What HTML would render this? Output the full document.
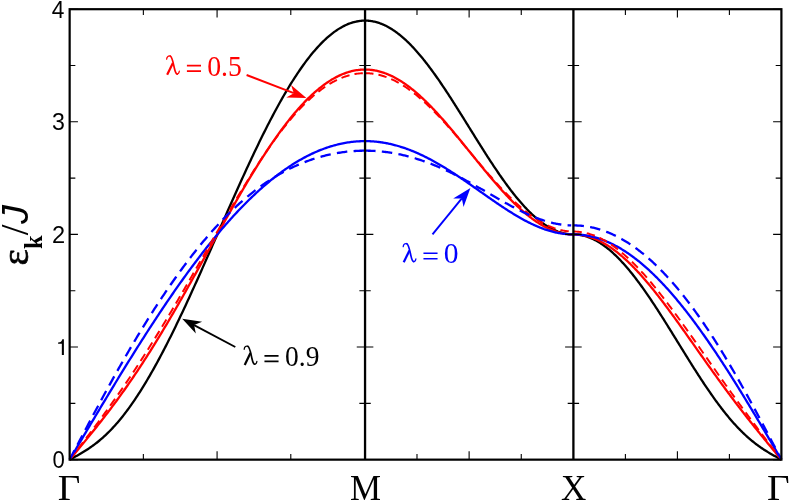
<!DOCTYPE html>
<html><head><meta charset="utf-8"><title>Dispersion</title>
<style>
html,body{margin:0;padding:0;background:#fff;}
body{width:789px;height:501px;overflow:hidden;}
svg{display:block;}
</style></head><body>
<svg width="789" height="501" viewBox="0 0 789 501">
<rect x="0" y="0" width="789" height="501" fill="#ffffff"/>
<g fill="none" stroke-width="2.3" stroke-linejoin="round">
<path stroke="#000000" d="M69.65,459.65 L70.88,458.99 L72.11,458.33 L73.34,457.67 L74.57,457.00 L75.80,456.32 L77.04,455.64 L78.27,454.95 L79.50,454.25 L80.73,453.54 L81.96,452.81 L83.19,452.07 L84.42,451.32 L85.65,450.55 L86.88,449.76 L88.11,448.96 L89.34,448.13 L90.57,447.29 L91.81,446.42 L93.04,445.53 L94.27,444.62 L95.50,443.69 L96.73,442.73 L97.96,441.75 L99.19,440.74 L100.42,439.71 L101.65,438.65 L102.88,437.56 L104.11,436.45 L105.34,435.31 L106.58,434.14 L107.81,432.95 L109.04,431.73 L110.27,430.48 L111.50,429.20 L112.73,427.89 L113.96,426.56 L115.19,425.19 L116.42,423.80 L117.65,422.38 L118.88,420.93 L120.11,419.46 L121.34,417.95 L122.58,416.42 L123.81,414.85 L125.04,413.26 L126.27,411.65 L127.50,410.00 L128.73,408.33 L129.96,406.63 L131.19,404.90 L132.42,403.14 L133.65,401.36 L134.88,399.55 L136.12,397.71 L137.35,395.85 L138.58,393.96 L139.81,392.05 L141.04,390.11 L142.27,388.14 L143.50,386.15 L144.73,384.13 L145.96,382.09 L147.19,380.03 L148.42,377.94 L149.65,375.83 L150.88,373.69 L152.12,371.54 L153.35,369.35 L154.58,367.15 L155.81,364.93 L157.04,362.68 L158.27,360.41 L159.50,358.12 L160.73,355.81 L161.96,353.48 L163.19,351.13 L164.42,348.76 L165.66,346.37 L166.89,343.97 L168.12,341.54 L169.35,339.10 L170.58,336.64 L171.81,334.16 L173.04,331.66 L174.27,329.15 L175.50,326.63 L176.73,324.08 L177.96,321.53 L179.19,318.96 L180.43,316.37 L181.66,313.77 L182.89,311.16 L184.12,308.53 L185.35,305.89 L186.58,303.24 L187.81,300.58 L189.04,297.91 L190.27,295.23 L191.50,292.53 L192.73,289.83 L193.96,287.12 L195.19,284.39 L196.43,281.66 L197.66,278.93 L198.89,276.18 L200.12,273.43 L201.35,270.67 L202.58,267.90 L203.81,265.13 L205.04,262.36 L206.27,259.58 L207.50,256.79 L208.73,254.01 L209.96,251.21 L211.20,248.42 L212.43,245.62 L213.66,242.83 L214.89,240.03 L216.12,237.23 L217.35,234.43 L218.58,231.62 L219.81,228.82 L221.04,226.03 L222.27,223.23 L223.50,220.43 L224.74,217.64 L225.97,214.85 L227.20,212.06 L228.43,209.28 L229.66,206.50 L230.89,203.73 L232.12,200.96 L233.35,198.20 L234.58,195.44 L235.81,192.69 L237.04,189.95 L238.27,187.22 L239.50,184.49 L240.74,181.77 L241.97,179.06 L243.20,176.36 L244.43,173.67 L245.66,171.00 L246.89,168.33 L248.12,165.67 L249.35,163.03 L250.58,160.39 L251.81,157.77 L253.04,155.17 L254.28,152.57 L255.51,150.00 L256.74,147.43 L257.97,144.88 L259.20,142.35 L260.43,139.83 L261.66,137.33 L262.89,134.84 L264.12,132.37 L265.35,129.92 L266.58,127.49 L267.81,125.08 L269.05,122.68 L270.28,120.30 L271.51,117.95 L272.74,115.61 L273.97,113.29 L275.20,111.00 L276.43,108.72 L277.66,106.47 L278.89,104.24 L280.12,102.03 L281.35,99.84 L282.58,97.68 L283.81,95.54 L285.05,93.42 L286.28,91.33 L287.51,89.27 L288.74,87.22 L289.97,85.21 L291.20,83.21 L292.43,81.25 L293.66,79.31 L294.89,77.40 L296.12,75.51 L297.35,73.65 L298.59,71.82 L299.82,70.02 L301.05,68.24 L302.28,66.50 L303.51,64.78 L304.74,63.09 L305.97,61.43 L307.20,59.80 L308.43,58.20 L309.66,56.63 L310.89,55.09 L312.12,53.58 L313.35,52.10 L314.59,50.66 L315.82,49.24 L317.05,47.86 L318.28,46.51 L319.51,45.19 L320.74,43.90 L321.97,42.65 L323.20,41.43 L324.43,40.24 L325.66,39.09 L326.89,37.96 L328.12,36.88 L329.36,35.82 L330.59,34.80 L331.82,33.82 L333.05,32.87 L334.28,31.95 L335.51,31.07 L336.74,30.22 L337.97,29.41 L339.20,28.63 L340.43,27.89 L341.66,27.18 L342.89,26.51 L344.13,25.88 L345.36,25.28 L346.59,24.71 L347.82,24.18 L349.05,23.69 L350.28,23.24 L351.51,22.82 L352.74,22.43 L353.97,22.09 L355.20,21.78 L356.43,21.50 L357.66,21.26 L358.90,21.06 L360.13,20.90 L361.36,20.77 L362.59,20.68 L363.82,20.62 L365.05,20.61 L365.92,20.61 L366.79,20.64 L367.65,20.69 L368.52,20.75 L369.39,20.83 L370.26,20.94 L371.13,21.05 L372.00,21.19 L372.86,21.35 L373.73,21.52 L374.60,21.71 L375.47,21.92 L376.34,22.15 L377.20,22.40 L378.07,22.66 L378.94,22.94 L379.81,23.24 L380.68,23.56 L381.54,23.89 L382.41,24.25 L383.28,24.62 L384.15,25.01 L385.02,25.41 L385.88,25.84 L386.75,26.28 L387.62,26.74 L388.49,27.21 L389.36,27.70 L390.23,28.21 L391.09,28.74 L391.96,29.28 L392.83,29.85 L393.70,30.42 L394.57,31.02 L395.43,31.63 L396.30,32.25 L397.17,32.90 L398.04,33.56 L398.91,34.23 L399.77,34.92 L400.64,35.63 L401.51,36.35 L402.38,37.09 L403.25,37.85 L404.12,38.62 L404.98,39.40 L405.85,40.20 L406.72,41.02 L407.59,41.85 L408.46,42.69 L409.32,43.55 L410.19,44.42 L411.06,45.31 L411.93,46.21 L412.80,47.13 L413.67,48.06 L414.53,49.00 L415.40,49.96 L416.27,50.93 L417.14,51.91 L418.01,52.90 L418.87,53.91 L419.74,54.93 L420.61,55.97 L421.48,57.01 L422.35,58.07 L423.21,59.14 L424.08,60.22 L424.95,61.32 L425.82,62.42 L426.69,63.54 L427.56,64.66 L428.42,65.80 L429.29,66.95 L430.16,68.11 L431.03,69.27 L431.90,70.45 L432.76,71.64 L433.63,72.84 L434.50,74.04 L435.37,75.26 L436.24,76.49 L437.10,77.72 L437.97,78.96 L438.84,80.21 L439.71,81.47 L440.58,82.74 L441.44,84.01 L442.31,85.30 L443.18,86.58 L444.05,87.88 L444.92,89.18 L445.79,90.49 L446.65,91.81 L447.52,93.13 L448.39,94.46 L449.26,95.79 L450.13,97.13 L450.99,98.47 L451.86,99.82 L452.73,101.18 L453.60,102.54 L454.47,103.90 L455.33,105.27 L456.20,106.64 L457.07,108.01 L457.94,109.39 L458.81,110.77 L459.68,112.15 L460.54,113.54 L461.41,114.93 L462.28,116.32 L463.15,117.71 L464.02,119.10 L464.88,120.50 L465.75,121.90 L466.62,123.29 L467.49,124.69 L468.36,126.09 L469.23,127.49 L470.09,128.89 L470.96,130.29 L471.83,131.69 L472.70,133.09 L473.57,134.48 L474.43,135.88 L475.30,137.27 L476.17,138.67 L477.04,140.06 L477.91,141.44 L478.77,142.83 L479.64,144.21 L480.51,145.60 L481.38,146.97 L482.25,148.35 L483.12,149.72 L483.98,151.08 L484.85,152.45 L485.72,153.81 L486.59,155.16 L487.46,156.51 L488.32,157.85 L489.19,159.19 L490.06,160.53 L490.93,161.86 L491.80,163.18 L492.66,164.49 L493.53,165.80 L494.40,167.11 L495.27,168.40 L496.14,169.69 L497.00,170.98 L497.87,172.25 L498.74,173.52 L499.61,174.78 L500.48,176.03 L501.35,177.27 L502.21,178.51 L503.08,179.73 L503.95,180.95 L504.82,182.16 L505.69,183.35 L506.55,184.54 L507.42,185.72 L508.29,186.89 L509.16,188.05 L510.03,189.20 L510.89,190.34 L511.76,191.46 L512.63,192.58 L513.50,193.68 L514.37,194.78 L515.24,195.86 L516.10,196.93 L516.97,197.99 L517.84,199.03 L518.71,200.07 L519.58,201.09 L520.44,202.10 L521.31,203.10 L522.18,204.08 L523.05,205.05 L523.92,206.01 L524.78,206.95 L525.65,207.88 L526.52,208.80 L527.39,209.70 L528.26,210.59 L529.13,211.46 L529.99,212.32 L530.86,213.17 L531.73,214.00 L532.60,214.81 L533.47,215.61 L534.33,216.40 L535.20,217.17 L536.07,217.92 L536.94,218.66 L537.81,219.39 L538.67,220.09 L539.54,220.79 L540.41,221.46 L541.28,222.12 L542.15,222.77 L543.02,223.39 L543.88,224.00 L544.75,224.60 L545.62,225.18 L546.49,225.74 L547.36,226.28 L548.22,226.81 L549.09,227.32 L549.96,227.81 L550.83,228.29 L551.70,228.75 L552.57,229.19 L553.43,229.61 L554.30,230.02 L555.17,230.41 L556.04,230.78 L556.91,231.13 L557.77,231.47 L558.64,231.79 L559.51,232.09 L560.38,232.37 L561.25,232.63 L562.11,232.88 L562.98,233.11 L563.85,233.32 L564.72,233.51 L565.59,233.68 L566.45,233.84 L567.32,233.98 L568.19,234.10 L569.06,234.20 L569.93,234.28 L570.80,234.34 L571.66,234.39 L572.53,234.42 L573.40,234.42 L574.27,234.43 L575.13,234.46 L576.00,234.51 L576.87,234.57 L577.73,234.65 L578.60,234.75 L579.47,234.87 L580.33,235.01 L581.20,235.17 L582.07,235.34 L582.93,235.53 L583.80,235.74 L584.67,235.97 L585.53,236.22 L586.40,236.48 L587.27,236.76 L588.13,237.06 L589.00,237.38 L589.87,237.72 L590.73,238.07 L591.60,238.44 L592.47,238.83 L593.33,239.24 L594.20,239.66 L595.07,240.10 L595.93,240.56 L596.80,241.04 L597.67,241.53 L598.53,242.04 L599.40,242.57 L600.27,243.11 L601.13,243.67 L602.00,244.25 L602.87,244.85 L603.73,245.46 L604.60,246.09 L605.47,246.73 L606.33,247.39 L607.20,248.07 L608.07,248.76 L608.93,249.47 L609.80,250.19 L610.67,250.93 L611.53,251.69 L612.40,252.46 L613.27,253.24 L614.13,254.04 L615.00,254.86 L615.87,255.69 L616.73,256.54 L617.60,257.40 L618.47,258.27 L619.33,259.16 L620.20,260.06 L621.07,260.98 L621.93,261.91 L622.80,262.85 L623.67,263.81 L624.53,264.78 L625.40,265.77 L626.27,266.76 L627.13,267.77 L628.00,268.80 L628.87,269.83 L629.73,270.88 L630.60,271.94 L631.47,273.01 L632.33,274.09 L633.20,275.19 L634.07,276.29 L634.93,277.41 L635.80,278.54 L636.67,279.68 L637.53,280.83 L638.40,281.99 L639.27,283.16 L640.13,284.34 L641.00,285.53 L641.87,286.73 L642.73,287.94 L643.60,289.16 L644.47,290.39 L645.33,291.62 L646.20,292.87 L647.07,294.12 L647.93,295.38 L648.80,296.65 L649.67,297.93 L650.53,299.21 L651.40,300.50 L652.27,301.80 L653.13,303.11 L654.00,304.42 L654.87,305.74 L655.73,307.07 L656.60,308.40 L657.47,309.73 L658.33,311.08 L659.20,312.42 L660.07,313.78 L660.93,315.14 L661.80,316.50 L662.67,317.86 L663.53,319.23 L664.40,320.61 L665.27,321.99 L666.13,323.37 L667.00,324.75 L667.87,326.14 L668.73,327.53 L669.60,328.93 L670.47,330.32 L671.33,331.72 L672.20,333.12 L673.07,334.52 L673.93,335.92 L674.80,337.33 L675.67,338.73 L676.53,340.14 L677.40,341.54 L678.27,342.95 L679.13,344.35 L680.00,345.76 L680.87,347.16 L681.73,348.57 L682.60,349.97 L683.47,351.37 L684.33,352.77 L685.20,354.17 L686.07,355.57 L686.93,356.96 L687.80,358.35 L688.67,359.74 L689.53,361.13 L690.40,362.51 L691.27,363.89 L692.13,365.27 L693.00,366.64 L693.87,368.01 L694.73,369.37 L695.60,370.73 L696.47,372.09 L697.33,373.44 L698.20,374.79 L699.07,376.13 L699.93,377.46 L700.80,378.79 L701.67,380.11 L702.53,381.43 L703.40,382.74 L704.27,384.04 L705.13,385.34 L706.00,386.63 L706.87,387.91 L707.73,389.19 L708.60,390.46 L709.47,391.72 L710.33,392.97 L711.20,394.22 L712.07,395.45 L712.93,396.68 L713.80,397.90 L714.67,399.11 L715.53,400.31 L716.40,401.50 L717.27,402.68 L718.13,403.85 L719.00,405.02 L719.87,406.17 L720.73,407.31 L721.60,408.44 L722.47,409.57 L723.33,410.68 L724.20,411.78 L725.07,412.87 L725.93,413.95 L726.80,415.02 L727.67,416.07 L728.53,417.12 L729.40,418.15 L730.27,419.18 L731.13,420.19 L732.00,421.19 L732.87,422.17 L733.73,423.15 L734.60,424.11 L735.47,425.06 L736.33,426.00 L737.20,426.93 L738.07,427.85 L738.93,428.75 L739.80,429.64 L740.67,430.52 L741.53,431.38 L742.40,432.23 L743.27,433.07 L744.13,433.90 L745.00,434.72 L745.87,435.52 L746.73,436.31 L747.60,437.09 L748.47,437.86 L749.33,438.61 L750.20,439.35 L751.07,440.08 L751.93,440.80 L752.80,441.50 L753.67,442.20 L754.53,442.88 L755.40,443.55 L756.27,444.21 L757.13,444.86 L758.00,445.49 L758.87,446.12 L759.73,446.74 L760.60,447.34 L761.47,447.94 L762.33,448.52 L763.20,449.10 L764.07,449.67 L764.93,450.22 L765.80,450.77 L766.67,451.31 L767.53,451.85 L768.40,452.37 L769.27,452.89 L770.13,453.40 L771.00,453.91 L771.87,454.41 L772.73,454.90 L773.60,455.39 L774.47,455.88 L775.33,456.36 L776.20,456.83 L777.07,457.31 L777.93,457.78 L778.80,458.25 L779.67,458.72 L780.53,459.18 L781.40,459.65"/>
<path stroke="#ff0000" d="M69.65,459.65 L70.88,458.18 L72.11,456.70 L73.34,455.23 L74.57,453.75 L75.80,452.27 L77.04,450.79 L78.27,449.31 L79.50,447.83 L80.73,446.34 L81.96,444.86 L83.19,443.37 L84.42,441.87 L85.65,440.37 L86.88,438.87 L88.11,437.36 L89.34,435.85 L90.57,434.34 L91.81,432.81 L93.04,431.29 L94.27,429.76 L95.50,428.22 L96.73,426.67 L97.96,425.12 L99.19,423.57 L100.42,422.00 L101.65,420.43 L102.88,418.85 L104.11,417.26 L105.34,415.67 L106.58,414.07 L107.81,412.46 L109.04,410.84 L110.27,409.21 L111.50,407.58 L112.73,405.93 L113.96,404.28 L115.19,402.62 L116.42,400.95 L117.65,399.27 L118.88,397.58 L120.11,395.88 L121.34,394.17 L122.58,392.45 L123.81,390.72 L125.04,388.98 L126.27,387.23 L127.50,385.47 L128.73,383.70 L129.96,381.92 L131.19,380.12 L132.42,378.32 L133.65,376.51 L134.88,374.69 L136.12,372.86 L137.35,371.02 L138.58,369.16 L139.81,367.30 L141.04,365.43 L142.27,363.54 L143.50,361.65 L144.73,359.74 L145.96,357.83 L147.19,355.90 L148.42,353.97 L149.65,352.02 L150.88,350.07 L152.12,348.11 L153.35,346.13 L154.58,344.15 L155.81,342.15 L157.04,340.15 L158.27,338.14 L159.50,336.12 L160.73,334.09 L161.96,332.05 L163.19,330.00 L164.42,327.95 L165.66,325.88 L166.89,323.81 L168.12,321.73 L169.35,319.64 L170.58,317.54 L171.81,315.44 L173.04,313.33 L174.27,311.21 L175.50,309.09 L176.73,306.95 L177.96,304.81 L179.19,302.67 L180.43,300.52 L181.66,298.36 L182.89,296.20 L184.12,294.03 L185.35,291.86 L186.58,289.68 L187.81,287.50 L189.04,285.31 L190.27,283.12 L191.50,280.93 L192.73,278.73 L193.96,276.53 L195.19,274.32 L196.43,272.12 L197.66,269.91 L198.89,267.69 L200.12,265.48 L201.35,263.26 L202.58,261.04 L203.81,258.83 L205.04,256.61 L206.27,254.39 L207.50,252.17 L208.73,249.94 L209.96,247.72 L211.20,245.50 L212.43,243.29 L213.66,241.07 L214.89,238.85 L216.12,236.64 L217.35,234.43 L218.58,232.22 L219.81,230.01 L221.04,227.80 L222.27,225.60 L223.50,223.41 L224.74,221.21 L225.97,219.02 L227.20,216.84 L228.43,214.66 L229.66,212.49 L230.89,210.32 L232.12,208.15 L233.35,206.00 L234.58,203.85 L235.81,201.70 L237.04,199.57 L238.27,197.44 L239.50,195.32 L240.74,193.21 L241.97,191.10 L243.20,189.00 L244.43,186.92 L245.66,184.84 L246.89,182.77 L248.12,180.71 L249.35,178.67 L250.58,176.63 L251.81,174.60 L253.04,172.59 L254.28,170.58 L255.51,168.59 L256.74,166.61 L257.97,164.65 L259.20,162.69 L260.43,160.75 L261.66,158.82 L262.89,156.91 L264.12,155.01 L265.35,153.12 L266.58,151.25 L267.81,149.39 L269.05,147.55 L270.28,145.72 L271.51,143.91 L272.74,142.12 L273.97,140.34 L275.20,138.57 L276.43,136.83 L277.66,135.10 L278.89,133.39 L280.12,131.70 L281.35,130.02 L282.58,128.36 L283.81,126.72 L285.05,125.10 L286.28,123.50 L287.51,121.92 L288.74,120.36 L289.97,118.81 L291.20,117.29 L292.43,115.79 L293.66,114.30 L294.89,112.84 L296.12,111.40 L297.35,109.98 L298.59,108.58 L299.82,107.20 L301.05,105.85 L302.28,104.51 L303.51,103.20 L304.74,101.91 L305.97,100.65 L307.20,99.40 L308.43,98.18 L309.66,96.98 L310.89,95.81 L312.12,94.66 L313.35,93.53 L314.59,92.43 L315.82,91.35 L317.05,90.30 L318.28,89.27 L319.51,88.26 L320.74,87.28 L321.97,86.33 L323.20,85.40 L324.43,84.49 L325.66,83.61 L326.89,82.76 L328.12,81.93 L329.36,81.13 L330.59,80.35 L331.82,79.60 L333.05,78.88 L334.28,78.18 L335.51,77.51 L336.74,76.86 L337.97,76.24 L339.20,75.65 L340.43,75.09 L341.66,74.55 L342.89,74.04 L344.13,73.56 L345.36,73.10 L346.59,72.67 L347.82,72.27 L349.05,71.90 L350.28,71.55 L351.51,71.23 L352.74,70.94 L353.97,70.68 L355.20,70.44 L356.43,70.23 L357.66,70.05 L358.90,69.90 L360.13,69.77 L361.36,69.67 L362.59,69.60 L363.82,69.56 L365.05,69.55 L365.92,69.56 L366.79,69.58 L367.65,69.61 L368.52,69.66 L369.39,69.72 L370.26,69.80 L371.13,69.89 L372.00,69.99 L372.86,70.11 L373.73,70.24 L374.60,70.39 L375.47,70.55 L376.34,70.72 L377.20,70.91 L378.07,71.11 L378.94,71.32 L379.81,71.55 L380.68,71.79 L381.54,72.05 L382.41,72.32 L383.28,72.60 L384.15,72.90 L385.02,73.21 L385.88,73.53 L386.75,73.86 L387.62,74.21 L388.49,74.57 L389.36,74.95 L390.23,75.34 L391.09,75.74 L391.96,76.15 L392.83,76.58 L393.70,77.02 L394.57,77.47 L395.43,77.93 L396.30,78.41 L397.17,78.90 L398.04,79.40 L398.91,79.92 L399.77,80.44 L400.64,80.98 L401.51,81.53 L402.38,82.10 L403.25,82.67 L404.12,83.26 L404.98,83.85 L405.85,84.46 L406.72,85.08 L407.59,85.72 L408.46,86.36 L409.32,87.01 L410.19,87.68 L411.06,88.35 L411.93,89.04 L412.80,89.74 L413.67,90.45 L414.53,91.17 L415.40,91.90 L416.27,92.63 L417.14,93.38 L418.01,94.14 L418.87,94.91 L419.74,95.69 L420.61,96.48 L421.48,97.28 L422.35,98.08 L423.21,98.90 L424.08,99.72 L424.95,100.56 L425.82,101.40 L426.69,102.25 L427.56,103.11 L428.42,103.98 L429.29,104.86 L430.16,105.74 L431.03,106.63 L431.90,107.53 L432.76,108.44 L433.63,109.36 L434.50,110.28 L435.37,111.21 L436.24,112.14 L437.10,113.09 L437.97,114.04 L438.84,114.99 L439.71,115.96 L440.58,116.93 L441.44,117.90 L442.31,118.88 L443.18,119.87 L444.05,120.86 L444.92,121.86 L445.79,122.86 L446.65,123.87 L447.52,124.88 L448.39,125.89 L449.26,126.92 L450.13,127.94 L450.99,128.97 L451.86,130.01 L452.73,131.04 L453.60,132.08 L454.47,133.13 L455.33,134.18 L456.20,135.23 L457.07,136.28 L457.94,137.34 L458.81,138.40 L459.68,139.46 L460.54,140.52 L461.41,141.59 L462.28,142.66 L463.15,143.73 L464.02,144.80 L464.88,145.87 L465.75,146.95 L466.62,148.02 L467.49,149.10 L468.36,150.17 L469.23,151.25 L470.09,152.32 L470.96,153.40 L471.83,154.48 L472.70,155.55 L473.57,156.63 L474.43,157.70 L475.30,158.78 L476.17,159.85 L477.04,160.92 L477.91,161.99 L478.77,163.06 L479.64,164.13 L480.51,165.20 L481.38,166.26 L482.25,167.32 L483.12,168.38 L483.98,169.43 L484.85,170.49 L485.72,171.54 L486.59,172.58 L487.46,173.63 L488.32,174.67 L489.19,175.70 L490.06,176.73 L490.93,177.76 L491.80,178.78 L492.66,179.80 L493.53,180.82 L494.40,181.83 L495.27,182.83 L496.14,183.83 L497.00,184.83 L497.87,185.81 L498.74,186.80 L499.61,187.77 L500.48,188.75 L501.35,189.71 L502.21,190.67 L503.08,191.62 L503.95,192.57 L504.82,193.50 L505.69,194.44 L506.55,195.36 L507.42,196.28 L508.29,197.19 L509.16,198.09 L510.03,198.98 L510.89,199.87 L511.76,200.75 L512.63,201.62 L513.50,202.48 L514.37,203.33 L515.24,204.17 L516.10,205.01 L516.97,205.83 L517.84,206.65 L518.71,207.46 L519.58,208.26 L520.44,209.04 L521.31,209.82 L522.18,210.59 L523.05,211.35 L523.92,212.10 L524.78,212.84 L525.65,213.56 L526.52,214.28 L527.39,214.99 L528.26,215.68 L529.13,216.37 L529.99,217.04 L530.86,217.70 L531.73,218.35 L532.60,218.99 L533.47,219.62 L534.33,220.24 L535.20,220.84 L536.07,221.43 L536.94,222.02 L537.81,222.58 L538.67,223.14 L539.54,223.68 L540.41,224.21 L541.28,224.73 L542.15,225.24 L543.02,225.73 L543.88,226.21 L544.75,226.68 L545.62,227.14 L546.49,227.58 L547.36,228.01 L548.22,228.42 L549.09,228.82 L549.96,229.21 L550.83,229.59 L551.70,229.95 L552.57,230.30 L553.43,230.63 L554.30,230.95 L555.17,231.26 L556.04,231.55 L556.91,231.83 L557.77,232.09 L558.64,232.34 L559.51,232.58 L560.38,232.80 L561.25,233.01 L562.11,233.21 L562.98,233.39 L563.85,233.55 L564.72,233.70 L565.59,233.84 L566.45,233.96 L567.32,234.07 L568.19,234.16 L569.06,234.24 L569.93,234.31 L570.80,234.36 L571.66,234.40 L572.53,234.42 L573.40,234.42 L574.27,234.43 L575.13,234.45 L576.00,234.49 L576.87,234.54 L577.73,234.61 L578.60,234.69 L579.47,234.78 L580.33,234.89 L581.20,235.01 L582.07,235.15 L582.93,235.30 L583.80,235.47 L584.67,235.65 L585.53,235.84 L586.40,236.05 L587.27,236.27 L588.13,236.51 L589.00,236.76 L589.87,237.03 L590.73,237.30 L591.60,237.60 L592.47,237.91 L593.33,238.23 L594.20,238.56 L595.07,238.91 L595.93,239.28 L596.80,239.65 L597.67,240.04 L598.53,240.45 L599.40,240.86 L600.27,241.30 L601.13,241.74 L602.00,242.20 L602.87,242.67 L603.73,243.15 L604.60,243.65 L605.47,244.16 L606.33,244.69 L607.20,245.22 L608.07,245.77 L608.93,246.34 L609.80,246.91 L610.67,247.50 L611.53,248.10 L612.40,248.71 L613.27,249.34 L614.13,249.97 L615.00,250.62 L615.87,251.29 L616.73,251.96 L617.60,252.65 L618.47,253.34 L619.33,254.05 L620.20,254.77 L621.07,255.50 L621.93,256.25 L622.80,257.00 L623.67,257.77 L624.53,258.54 L625.40,259.33 L626.27,260.13 L627.13,260.94 L628.00,261.76 L628.87,262.59 L629.73,263.43 L630.60,264.28 L631.47,265.14 L632.33,266.01 L633.20,266.89 L634.07,267.78 L634.93,268.68 L635.80,269.59 L636.67,270.51 L637.53,271.44 L638.40,272.38 L639.27,273.33 L640.13,274.28 L641.00,275.24 L641.87,276.22 L642.73,277.20 L643.60,278.19 L644.47,279.18 L645.33,280.19 L646.20,281.20 L647.07,282.22 L647.93,283.25 L648.80,284.29 L649.67,285.33 L650.53,286.38 L651.40,287.44 L652.27,288.50 L653.13,289.57 L654.00,290.65 L654.87,291.74 L655.73,292.83 L656.60,293.92 L657.47,295.03 L658.33,296.13 L659.20,297.25 L660.07,298.37 L660.93,299.49 L661.80,300.63 L662.67,301.76 L663.53,302.90 L664.40,304.05 L665.27,305.20 L666.13,306.35 L667.00,307.51 L667.87,308.68 L668.73,309.85 L669.60,311.02 L670.47,312.20 L671.33,313.38 L672.20,314.56 L673.07,315.75 L673.93,316.94 L674.80,318.13 L675.67,319.33 L676.53,320.53 L677.40,321.73 L678.27,322.93 L679.13,324.14 L680.00,325.35 L680.87,326.56 L681.73,327.78 L682.60,328.99 L683.47,330.21 L684.33,331.43 L685.20,332.65 L686.07,333.87 L686.93,335.10 L687.80,336.32 L688.67,337.55 L689.53,338.77 L690.40,340.00 L691.27,341.23 L692.13,342.46 L693.00,343.69 L693.87,344.92 L694.73,346.15 L695.60,347.38 L696.47,348.61 L697.33,349.84 L698.20,351.07 L699.07,352.30 L699.93,353.53 L700.80,354.75 L701.67,355.98 L702.53,357.21 L703.40,358.43 L704.27,359.66 L705.13,360.88 L706.00,362.10 L706.87,363.33 L707.73,364.55 L708.60,365.76 L709.47,366.98 L710.33,368.20 L711.20,369.41 L712.07,370.62 L712.93,371.83 L713.80,373.04 L714.67,374.25 L715.53,375.45 L716.40,376.65 L717.27,377.85 L718.13,379.05 L719.00,380.25 L719.87,381.44 L720.73,382.63 L721.60,383.82 L722.47,385.00 L723.33,386.19 L724.20,387.37 L725.07,388.55 L725.93,389.72 L726.80,390.89 L727.67,392.06 L728.53,393.23 L729.40,394.39 L730.27,395.56 L731.13,396.71 L732.00,397.87 L732.87,399.02 L733.73,400.17 L734.60,401.32 L735.47,402.46 L736.33,403.60 L737.20,404.74 L738.07,405.88 L738.93,407.01 L739.80,408.14 L740.67,409.27 L741.53,410.39 L742.40,411.51 L743.27,412.63 L744.13,413.74 L745.00,414.86 L745.87,415.97 L746.73,417.07 L747.60,418.18 L748.47,419.28 L749.33,420.38 L750.20,421.47 L751.07,422.57 L751.93,423.66 L752.80,424.74 L753.67,425.83 L754.53,426.91 L755.40,427.99 L756.27,429.07 L757.13,430.15 L758.00,431.22 L758.87,432.30 L759.73,433.37 L760.60,434.43 L761.47,435.50 L762.33,436.56 L763.20,437.63 L764.07,438.69 L764.93,439.75 L765.80,440.80 L766.67,441.86 L767.53,442.91 L768.40,443.97 L769.27,445.02 L770.13,446.07 L771.00,447.12 L771.87,448.16 L772.73,449.21 L773.60,450.26 L774.47,451.30 L775.33,452.35 L776.20,453.39 L777.07,454.44 L777.93,455.48 L778.80,456.52 L779.67,457.57 L780.53,458.61 L781.40,459.65"/>
<path stroke="#0000ff" d="M69.65,459.65 L70.88,457.57 L72.11,455.48 L73.34,453.40 L74.57,451.31 L75.80,449.23 L77.04,447.15 L78.27,445.06 L79.50,442.98 L80.73,440.90 L81.96,438.82 L83.19,436.74 L84.42,434.66 L85.65,432.58 L86.88,430.51 L88.11,428.43 L89.34,426.36 L90.57,424.28 L91.81,422.21 L93.04,420.14 L94.27,418.08 L95.50,416.01 L96.73,413.95 L97.96,411.88 L99.19,409.82 L100.42,407.77 L101.65,405.71 L102.88,403.66 L104.11,401.61 L105.34,399.56 L106.58,397.51 L107.81,395.47 L109.04,393.43 L110.27,391.39 L111.50,389.35 L112.73,387.32 L113.96,385.29 L115.19,383.27 L116.42,381.25 L117.65,379.23 L118.88,377.21 L120.11,375.20 L121.34,373.19 L122.58,371.19 L123.81,369.19 L125.04,367.19 L126.27,365.20 L127.50,363.21 L128.73,361.22 L129.96,359.24 L131.19,357.27 L132.42,355.29 L133.65,353.33 L134.88,351.36 L136.12,349.41 L137.35,347.45 L138.58,345.50 L139.81,343.56 L141.04,341.62 L142.27,339.69 L143.50,337.76 L144.73,335.84 L145.96,333.92 L147.19,332.00 L148.42,330.10 L149.65,328.20 L150.88,326.30 L152.12,324.41 L153.35,322.53 L154.58,320.65 L155.81,318.77 L157.04,316.91 L158.27,315.05 L159.50,313.19 L160.73,311.34 L161.96,309.50 L163.19,307.67 L164.42,305.84 L165.66,304.02 L166.89,302.20 L168.12,300.39 L169.35,298.59 L170.58,296.79 L171.81,295.01 L173.04,293.23 L174.27,291.45 L175.50,289.69 L176.73,287.93 L177.96,286.17 L179.19,284.43 L180.43,282.69 L181.66,280.96 L182.89,279.24 L184.12,277.53 L185.35,275.82 L186.58,274.12 L187.81,272.43 L189.04,270.75 L190.27,269.07 L191.50,267.41 L192.73,265.75 L193.96,264.10 L195.19,262.46 L196.43,260.83 L197.66,259.20 L198.89,257.59 L200.12,255.98 L201.35,254.38 L202.58,252.79 L203.81,251.21 L205.04,249.64 L206.27,248.07 L207.50,246.52 L208.73,244.98 L209.96,243.44 L211.20,241.91 L212.43,240.40 L213.66,238.89 L214.89,237.39 L216.12,235.90 L217.35,234.43 L218.58,232.96 L219.81,231.50 L221.04,230.05 L222.27,228.61 L223.50,227.18 L224.74,225.76 L225.97,224.35 L227.20,222.95 L228.43,221.56 L229.66,220.18 L230.89,218.81 L232.12,217.45 L233.35,216.10 L234.58,214.76 L235.81,213.43 L237.04,212.12 L238.27,210.81 L239.50,209.51 L240.74,208.23 L241.97,206.95 L243.20,205.69 L244.43,204.44 L245.66,203.20 L246.89,201.96 L248.12,200.75 L249.35,199.54 L250.58,198.34 L251.81,197.15 L253.04,195.98 L254.28,194.81 L255.51,193.66 L256.74,192.52 L257.97,191.39 L259.20,190.27 L260.43,189.17 L261.66,188.07 L262.89,186.99 L264.12,185.92 L265.35,184.86 L266.58,183.81 L267.81,182.77 L269.05,181.75 L270.28,180.73 L271.51,179.73 L272.74,178.74 L273.97,177.77 L275.20,176.80 L276.43,175.85 L277.66,174.91 L278.89,173.98 L280.12,173.07 L281.35,172.16 L282.58,171.27 L283.81,170.39 L285.05,169.53 L286.28,168.67 L287.51,167.83 L288.74,167.00 L289.97,166.18 L291.20,165.38 L292.43,164.59 L293.66,163.81 L294.89,163.04 L296.12,162.29 L297.35,161.55 L298.59,160.82 L299.82,160.11 L301.05,159.40 L302.28,158.71 L303.51,158.04 L304.74,157.37 L305.97,156.72 L307.20,156.09 L308.43,155.46 L309.66,154.85 L310.89,154.25 L312.12,153.66 L313.35,153.09 L314.59,152.53 L315.82,151.99 L317.05,151.45 L318.28,150.93 L319.51,150.43 L320.74,149.93 L321.97,149.45 L323.20,148.99 L324.43,148.53 L325.66,148.09 L326.89,147.67 L328.12,147.25 L329.36,146.85 L330.59,146.47 L331.82,146.09 L333.05,145.73 L334.28,145.39 L335.51,145.06 L336.74,144.74 L337.97,144.43 L339.20,144.14 L340.43,143.86 L341.66,143.59 L342.89,143.34 L344.13,143.10 L345.36,142.88 L346.59,142.67 L347.82,142.47 L349.05,142.29 L350.28,142.12 L351.51,141.96 L352.74,141.82 L353.97,141.69 L355.20,141.57 L356.43,141.47 L357.66,141.38 L358.90,141.30 L360.13,141.24 L361.36,141.20 L362.59,141.16 L363.82,141.14 L365.05,141.13 L365.92,141.14 L366.79,141.15 L367.65,141.16 L368.52,141.19 L369.39,141.22 L370.26,141.26 L371.13,141.30 L372.00,141.35 L372.86,141.41 L373.73,141.47 L374.60,141.55 L375.47,141.62 L376.34,141.71 L377.20,141.80 L378.07,141.90 L378.94,142.00 L379.81,142.12 L380.68,142.24 L381.54,142.36 L382.41,142.49 L383.28,142.63 L384.15,142.78 L385.02,142.93 L385.88,143.09 L386.75,143.25 L387.62,143.43 L388.49,143.60 L389.36,143.79 L390.23,143.98 L391.09,144.18 L391.96,144.38 L392.83,144.59 L393.70,144.81 L394.57,145.04 L395.43,145.27 L396.30,145.50 L397.17,145.75 L398.04,146.00 L398.91,146.25 L399.77,146.51 L400.64,146.78 L401.51,147.06 L402.38,147.34 L403.25,147.62 L404.12,147.92 L404.98,148.21 L405.85,148.52 L406.72,148.83 L407.59,149.15 L408.46,149.47 L409.32,149.80 L410.19,150.13 L411.06,150.47 L411.93,150.82 L412.80,151.17 L413.67,151.53 L414.53,151.89 L415.40,152.26 L416.27,152.64 L417.14,153.02 L418.01,153.40 L418.87,153.79 L419.74,154.19 L420.61,154.59 L421.48,155.00 L422.35,155.41 L423.21,155.83 L424.08,156.25 L424.95,156.68 L425.82,157.11 L426.69,157.55 L427.56,157.99 L428.42,158.44 L429.29,158.89 L430.16,159.35 L431.03,159.81 L431.90,160.28 L432.76,160.75 L433.63,161.23 L434.50,161.71 L435.37,162.19 L436.24,162.68 L437.10,163.17 L437.97,163.67 L438.84,164.17 L439.71,164.68 L440.58,165.19 L441.44,165.70 L442.31,166.22 L443.18,166.74 L444.05,167.27 L444.92,167.80 L445.79,168.33 L446.65,168.87 L447.52,169.40 L448.39,169.95 L449.26,170.49 L450.13,171.04 L450.99,171.60 L451.86,172.15 L452.73,172.71 L453.60,173.28 L454.47,173.84 L455.33,174.41 L456.20,174.98 L457.07,175.55 L457.94,176.13 L458.81,176.71 L459.68,177.29 L460.54,177.87 L461.41,178.46 L462.28,179.04 L463.15,179.63 L464.02,180.22 L464.88,180.82 L465.75,181.41 L466.62,182.01 L467.49,182.61 L468.36,183.21 L469.23,183.81 L470.09,184.41 L470.96,185.01 L471.83,185.62 L472.70,186.22 L473.57,186.83 L474.43,187.44 L475.30,188.05 L476.17,188.66 L477.04,189.26 L477.91,189.87 L478.77,190.48 L479.64,191.10 L480.51,191.71 L481.38,192.32 L482.25,192.93 L483.12,193.54 L483.98,194.15 L484.85,194.76 L485.72,195.37 L486.59,195.97 L487.46,196.58 L488.32,197.19 L489.19,197.79 L490.06,198.40 L490.93,199.00 L491.80,199.61 L492.66,200.21 L493.53,200.81 L494.40,201.40 L495.27,202.00 L496.14,202.59 L497.00,203.19 L497.87,203.78 L498.74,204.37 L499.61,204.95 L500.48,205.53 L501.35,206.11 L502.21,206.69 L503.08,207.27 L503.95,207.84 L504.82,208.41 L505.69,208.98 L506.55,209.54 L507.42,210.10 L508.29,210.66 L509.16,211.21 L510.03,211.76 L510.89,212.30 L511.76,212.84 L512.63,213.38 L513.50,213.91 L514.37,214.44 L515.24,214.96 L516.10,215.48 L516.97,216.00 L517.84,216.51 L518.71,217.01 L519.58,217.51 L520.44,218.01 L521.31,218.50 L522.18,218.98 L523.05,219.46 L523.92,219.93 L524.78,220.40 L525.65,220.86 L526.52,221.32 L527.39,221.77 L528.26,222.21 L529.13,222.65 L529.99,223.08 L530.86,223.50 L531.73,223.92 L532.60,224.33 L533.47,224.73 L534.33,225.13 L535.20,225.52 L536.07,225.90 L536.94,226.28 L537.81,226.64 L538.67,227.00 L539.54,227.36 L540.41,227.70 L541.28,228.04 L542.15,228.37 L543.02,228.69 L543.88,229.01 L544.75,229.31 L545.62,229.61 L546.49,229.90 L547.36,230.18 L548.22,230.45 L549.09,230.72 L549.96,230.97 L550.83,231.22 L551.70,231.46 L552.57,231.69 L553.43,231.91 L554.30,232.12 L555.17,232.32 L556.04,232.51 L556.91,232.70 L557.77,232.87 L558.64,233.04 L559.51,233.20 L560.38,233.35 L561.25,233.48 L562.11,233.61 L562.98,233.73 L563.85,233.84 L564.72,233.94 L565.59,234.04 L566.45,234.12 L567.32,234.19 L568.19,234.25 L569.06,234.30 L569.93,234.35 L570.80,234.38 L571.66,234.41 L572.53,234.42 L573.40,234.42 L574.27,234.43 L575.13,234.44 L576.00,234.47 L576.87,234.50 L577.73,234.55 L578.60,234.60 L579.47,234.66 L580.33,234.73 L581.20,234.82 L582.07,234.91 L582.93,235.01 L583.80,235.12 L584.67,235.24 L585.53,235.37 L586.40,235.51 L587.27,235.66 L588.13,235.82 L589.00,235.99 L589.87,236.16 L590.73,236.35 L591.60,236.55 L592.47,236.76 L593.33,236.97 L594.20,237.20 L595.07,237.43 L595.93,237.68 L596.80,237.93 L597.67,238.20 L598.53,238.47 L599.40,238.75 L600.27,239.04 L601.13,239.35 L602.00,239.66 L602.87,239.98 L603.73,240.31 L604.60,240.65 L605.47,241.00 L606.33,241.35 L607.20,241.72 L608.07,242.10 L608.93,242.49 L609.80,242.88 L610.67,243.29 L611.53,243.70 L612.40,244.12 L613.27,244.56 L614.13,245.00 L615.00,245.45 L615.87,245.91 L616.73,246.38 L617.60,246.86 L618.47,247.34 L619.33,247.84 L620.20,248.35 L621.07,248.86 L621.93,249.38 L622.80,249.92 L623.67,250.46 L624.53,251.01 L625.40,251.57 L626.27,252.14 L627.13,252.72 L628.00,253.30 L628.87,253.90 L629.73,254.50 L630.60,255.11 L631.47,255.73 L632.33,256.37 L633.20,257.00 L634.07,257.65 L634.93,258.31 L635.80,258.97 L636.67,259.65 L637.53,260.33 L638.40,261.02 L639.27,261.72 L640.13,262.43 L641.00,263.14 L641.87,263.87 L642.73,264.60 L643.60,265.34 L644.47,266.09 L645.33,266.85 L646.20,267.61 L647.07,268.39 L647.93,269.17 L648.80,269.96 L649.67,270.76 L650.53,271.57 L651.40,272.38 L652.27,273.21 L653.13,274.04 L654.00,274.88 L654.87,275.72 L655.73,276.58 L656.60,277.44 L657.47,278.31 L658.33,279.19 L659.20,280.07 L660.07,280.97 L660.93,281.87 L661.80,282.78 L662.67,283.69 L663.53,284.62 L664.40,285.55 L665.27,286.49 L666.13,287.43 L667.00,288.39 L667.87,289.35 L668.73,290.32 L669.60,291.29 L670.47,292.28 L671.33,293.27 L672.20,294.26 L673.07,295.27 L673.93,296.28 L674.80,297.30 L675.67,298.32 L676.53,299.35 L677.40,300.39 L678.27,301.44 L679.13,302.49 L680.00,303.55 L680.87,304.62 L681.73,305.69 L682.60,306.77 L683.47,307.85 L684.33,308.95 L685.20,310.04 L686.07,311.15 L686.93,312.26 L687.80,313.38 L688.67,314.50 L689.53,315.63 L690.40,316.77 L691.27,317.91 L692.13,319.06 L693.00,320.21 L693.87,321.38 L694.73,322.54 L695.60,323.71 L696.47,324.89 L697.33,326.08 L698.20,327.27 L699.07,328.46 L699.93,329.66 L700.80,330.87 L701.67,332.08 L702.53,333.30 L703.40,334.52 L704.27,335.75 L705.13,336.98 L706.00,338.22 L706.87,339.47 L707.73,340.72 L708.60,341.97 L709.47,343.23 L710.33,344.49 L711.20,345.76 L712.07,347.04 L712.93,348.32 L713.80,349.60 L714.67,350.89 L715.53,352.18 L716.40,353.48 L717.27,354.78 L718.13,356.09 L719.00,357.40 L719.87,358.72 L720.73,360.04 L721.60,361.36 L722.47,362.69 L723.33,364.02 L724.20,365.36 L725.07,366.70 L725.93,368.04 L726.80,369.39 L727.67,370.74 L728.53,372.10 L729.40,373.46 L730.27,374.82 L731.13,376.19 L732.00,377.56 L732.87,378.94 L733.73,380.31 L734.60,381.70 L735.47,383.08 L736.33,384.47 L737.20,385.86 L738.07,387.25 L738.93,388.65 L739.80,390.05 L740.67,391.46 L741.53,392.86 L742.40,394.27 L743.27,395.68 L744.13,397.10 L745.00,398.51 L745.87,399.93 L746.73,401.36 L747.60,402.78 L748.47,404.21 L749.33,405.64 L750.20,407.07 L751.07,408.51 L751.93,409.94 L752.80,411.38 L753.67,412.82 L754.53,414.27 L755.40,415.71 L756.27,417.16 L757.13,418.61 L758.00,420.06 L758.87,421.51 L759.73,422.96 L760.60,424.42 L761.47,425.87 L762.33,427.33 L763.20,428.79 L764.07,430.25 L764.93,431.71 L765.80,433.18 L766.67,434.64 L767.53,436.11 L768.40,437.57 L769.27,439.04 L770.13,440.51 L771.00,441.98 L771.87,443.45 L772.73,444.92 L773.60,446.39 L774.47,447.86 L775.33,449.33 L776.20,450.81 L777.07,452.28 L777.93,453.75 L778.80,455.23 L779.67,456.70 L780.53,458.18 L781.40,459.65"/>
<path stroke="#ff0000" stroke-width="1.95" stroke-dasharray="8.45 5.05" d="M69.65,459.65 L70.88,458.06 L72.11,456.46 L73.34,454.87 L74.57,453.27 L75.80,451.67 L77.04,450.07 L78.27,448.47 L79.50,446.87 L80.73,445.27 L81.96,443.66 L83.19,442.05 L84.42,440.44 L85.65,438.83 L86.88,437.21 L88.11,435.59 L89.34,433.97 L90.57,432.34 L91.81,430.71 L93.04,429.07 L94.27,427.43 L95.50,425.78 L96.73,424.13 L97.96,422.48 L99.19,420.81 L100.42,419.15 L101.65,417.48 L102.88,415.80 L104.11,414.11 L105.34,412.42 L106.58,410.73 L107.81,409.03 L109.04,407.32 L110.27,405.60 L111.50,403.88 L112.73,402.15 L113.96,400.41 L115.19,398.67 L116.42,396.92 L117.65,395.16 L118.88,393.39 L120.11,391.62 L121.34,389.84 L122.58,388.05 L123.81,386.26 L125.04,384.46 L126.27,382.64 L127.50,380.83 L128.73,379.00 L129.96,377.17 L131.19,375.32 L132.42,373.47 L133.65,371.62 L134.88,369.75 L136.12,367.88 L137.35,366.00 L138.58,364.11 L139.81,362.21 L141.04,360.31 L142.27,358.40 L143.50,356.48 L144.73,354.55 L145.96,352.62 L147.19,350.67 L148.42,348.72 L149.65,346.77 L150.88,344.80 L152.12,342.83 L153.35,340.85 L154.58,338.87 L155.81,336.88 L157.04,334.88 L158.27,332.87 L159.50,330.86 L160.73,328.84 L161.96,326.81 L163.19,324.78 L164.42,322.74 L165.66,320.70 L166.89,318.65 L168.12,316.59 L169.35,314.53 L170.58,312.46 L171.81,310.39 L173.04,308.31 L174.27,306.23 L175.50,304.14 L176.73,302.05 L177.96,299.95 L179.19,297.85 L180.43,295.74 L181.66,293.63 L182.89,291.52 L184.12,289.40 L185.35,287.28 L186.58,285.15 L187.81,283.03 L189.04,280.90 L190.27,278.76 L191.50,276.62 L192.73,274.49 L193.96,272.34 L195.19,270.20 L196.43,268.06 L197.66,265.91 L198.89,263.76 L200.12,261.61 L201.35,259.46 L202.58,257.31 L203.81,255.16 L205.04,253.01 L206.27,250.86 L207.50,248.71 L208.73,246.56 L209.96,244.41 L211.20,242.26 L212.43,240.11 L213.66,237.97 L214.89,235.82 L216.12,233.68 L217.35,231.54 L218.58,229.41 L219.81,227.27 L221.04,225.14 L222.27,223.01 L223.50,220.89 L224.74,218.77 L225.97,216.66 L227.20,214.55 L228.43,212.44 L229.66,210.34 L230.89,208.24 L232.12,206.16 L233.35,204.07 L234.58,202.00 L235.81,199.93 L237.04,197.86 L238.27,195.81 L239.50,193.76 L240.74,191.72 L241.97,189.69 L243.20,187.66 L244.43,185.65 L245.66,183.64 L246.89,181.64 L248.12,179.66 L249.35,177.68 L250.58,175.71 L251.81,173.76 L253.04,171.81 L254.28,169.88 L255.51,167.96 L256.74,166.05 L257.97,164.15 L259.20,162.26 L260.43,160.39 L261.66,158.53 L262.89,156.68 L264.12,154.85 L265.35,153.03 L266.58,151.23 L267.81,149.44 L269.05,147.66 L270.28,145.90 L271.51,144.16 L272.74,142.43 L273.97,140.72 L275.20,139.02 L276.43,137.34 L277.66,135.68 L278.89,134.03 L280.12,132.40 L281.35,130.79 L282.58,129.20 L283.81,127.63 L285.05,126.07 L286.28,124.53 L287.51,123.01 L288.74,121.51 L289.97,120.03 L291.20,118.57 L292.43,117.13 L293.66,115.71 L294.89,114.31 L296.12,112.93 L297.35,111.57 L298.59,110.23 L299.82,108.92 L301.05,107.62 L302.28,106.34 L303.51,105.09 L304.74,103.86 L305.97,102.65 L307.20,101.47 L308.43,100.30 L309.66,99.16 L310.89,98.04 L312.12,96.95 L313.35,95.88 L314.59,94.83 L315.82,93.80 L317.05,92.80 L318.28,91.82 L319.51,90.87 L320.74,89.93 L321.97,89.03 L323.20,88.15 L324.43,87.29 L325.66,86.45 L326.89,85.65 L328.12,84.86 L329.36,84.10 L330.59,83.37 L331.82,82.66 L333.05,81.97 L334.28,81.31 L335.51,80.68 L336.74,80.07 L337.97,79.49 L339.20,78.93 L340.43,78.40 L341.66,77.89 L342.89,77.41 L344.13,76.95 L345.36,76.52 L346.59,76.12 L347.82,75.74 L349.05,75.39 L350.28,75.06 L351.51,74.76 L352.74,74.49 L353.97,74.24 L355.20,74.01 L356.43,73.82 L357.66,73.65 L358.90,73.50 L360.13,73.39 L361.36,73.29 L362.59,73.23 L363.82,73.19 L365.05,73.18"/>
<path stroke="#ff0000" stroke-width="1.95" stroke-dasharray="8.45 5.05" d="M365.05,73.18 L365.91,73.18 L366.77,73.20 L367.63,73.23 L368.49,73.28 L369.34,73.34 L370.20,73.41 L371.06,73.49 L371.92,73.59 L372.78,73.70 L373.64,73.82 L374.50,73.95 L375.36,74.10 L376.22,74.26 L377.07,74.43 L377.93,74.62 L378.79,74.81 L379.65,75.02 L380.51,75.25 L381.37,75.48 L382.23,75.73 L383.09,75.99 L383.95,76.26 L384.81,76.55 L385.66,76.84 L386.52,77.15 L387.38,77.48 L388.24,77.81 L389.10,78.16 L389.96,78.52 L390.82,78.89 L391.68,79.27 L392.54,79.66 L393.39,80.07 L394.25,80.49 L395.11,80.92 L395.97,81.36 L396.83,81.81 L397.69,82.28 L398.55,82.75 L399.41,83.24 L400.27,83.74 L401.12,84.25 L401.98,84.77 L402.84,85.31 L403.70,85.85 L404.56,86.41 L405.42,86.97 L406.28,87.55 L407.14,88.14 L408.00,88.73 L408.86,89.34 L409.71,89.96 L410.57,90.59 L411.43,91.23 L412.29,91.88 L413.15,92.54 L414.01,93.21 L414.87,93.89 L415.73,94.58 L416.59,95.28 L417.44,95.99 L418.30,96.71 L419.16,97.43 L420.02,98.17 L420.88,98.92 L421.74,99.67 L422.60,100.43 L423.46,101.21 L424.32,101.99 L425.17,102.78 L426.03,103.57 L426.89,104.38 L427.75,105.20 L428.61,106.02 L429.47,106.85 L430.33,107.68 L431.19,108.53 L432.05,109.38 L432.90,110.24 L433.76,111.11 L434.62,111.98 L435.48,112.86 L436.34,113.75 L437.20,114.65 L438.06,115.55 L438.92,116.45 L439.78,117.37 L440.64,118.29 L441.49,119.21 L442.35,120.14 L443.21,121.08 L444.07,122.02 L444.93,122.97 L445.79,123.92 L446.65,124.88 L447.51,125.84 L448.37,126.80 L449.22,127.77 L450.08,128.75 L450.94,129.73 L451.80,130.71 L452.66,131.70 L453.52,132.69 L454.38,133.68 L455.24,134.68 L456.10,135.68 L456.95,136.68 L457.81,137.69 L458.67,138.69 L459.53,139.70 L460.39,140.72 L461.25,141.73 L462.11,142.75 L462.97,143.77 L463.83,144.79 L464.69,145.81 L465.54,146.83 L466.40,147.86 L467.26,148.88 L468.12,149.91 L468.98,150.94 L469.84,151.96 L470.70,152.99 L471.56,154.02 L472.42,155.04 L473.27,156.07 L474.13,157.09 L474.99,158.12 L475.85,159.14 L476.71,160.17 L477.57,161.19 L478.43,162.21 L479.29,163.23 L480.15,164.25 L481.00,165.26 L481.86,166.28 L482.72,167.29 L483.58,168.30 L484.44,169.30 L485.30,170.31 L486.16,171.31 L487.02,172.31 L487.88,173.30 L488.73,174.29 L489.59,175.28 L490.45,176.26 L491.31,177.24 L492.17,178.22 L493.03,179.19 L493.89,180.16 L494.75,181.12 L495.61,182.08 L496.47,183.03 L497.32,183.98 L498.18,184.92 L499.04,185.86 L499.90,186.79 L500.76,187.71 L501.62,188.63 L502.48,189.55 L503.34,190.46 L504.20,191.36 L505.05,192.25 L505.91,193.14 L506.77,194.02 L507.63,194.90 L508.49,195.76 L509.35,196.62 L510.21,197.48 L511.07,198.32 L511.93,199.16 L512.78,199.99 L513.64,200.81 L514.50,201.62 L515.36,202.43 L516.22,203.22 L517.08,204.01 L517.94,204.79 L518.80,205.56 L519.66,206.32 L520.52,207.08 L521.37,207.82 L522.23,208.55 L523.09,209.28 L523.95,209.99 L524.81,210.70 L525.67,211.39 L526.53,212.08 L527.39,212.75 L528.25,213.42 L529.10,214.07 L529.96,214.72 L530.82,215.35 L531.68,215.97 L532.54,216.59 L533.40,217.19 L534.26,217.78 L535.12,218.36 L535.98,218.92 L536.83,219.48 L537.69,220.02 L538.55,220.56 L539.41,221.08 L540.27,221.59 L541.13,222.09 L541.99,222.57 L542.85,223.05 L543.71,223.51 L544.56,223.96 L545.42,224.40 L546.28,224.82 L547.14,225.24 L548.00,225.64 L548.86,226.02 L549.72,226.40 L550.58,226.76 L551.44,227.11 L552.30,227.45 L553.15,227.77 L554.01,228.08 L554.87,228.38 L555.73,228.66 L556.59,228.93 L557.45,229.19 L558.31,229.44 L559.17,229.67 L560.03,229.89 L560.88,230.09 L561.74,230.28 L562.60,230.46 L563.46,230.63 L564.32,230.78 L565.18,230.92 L566.04,231.04 L566.90,231.15 L567.76,231.25 L568.61,231.33 L569.47,231.40 L570.33,231.45 L571.19,231.50"/>
<path stroke="#ff0000" stroke-width="1.95" stroke-dasharray="8.45 5.05" d="M573.40,231.54 L574.27,231.55 L575.13,231.57 L576.00,231.61 L576.87,231.65 L577.73,231.72 L578.60,231.79 L579.47,231.88 L580.33,231.99 L581.20,232.11 L582.07,232.24 L582.93,232.39 L583.80,232.55 L584.67,232.72 L585.53,232.91 L586.40,233.11 L587.27,233.33 L588.13,233.56 L589.00,233.80 L589.87,234.06 L590.73,234.33 L591.60,234.61 L592.47,234.91 L593.33,235.22 L594.20,235.54 L595.07,235.88 L595.93,236.23 L596.80,236.60 L597.67,236.98 L598.53,237.37 L599.40,237.77 L600.27,238.19 L601.13,238.62 L602.00,239.06 L602.87,239.52 L603.73,239.99 L604.60,240.47 L605.47,240.96 L606.33,241.47 L607.20,241.99 L608.07,242.52 L608.93,243.06 L609.80,243.62 L610.67,244.19 L611.53,244.77 L612.40,245.36 L613.27,245.97 L614.13,246.59 L615.00,247.22 L615.87,247.86 L616.73,248.51 L617.60,249.17 L618.47,249.85 L619.33,250.53 L620.20,251.23 L621.07,251.94 L621.93,252.66 L622.80,253.39 L623.67,254.14 L624.53,254.89 L625.40,255.65 L626.27,256.43 L627.13,257.21 L628.00,258.00 L628.87,258.81 L629.73,259.63 L630.60,260.45 L631.47,261.29 L632.33,262.13 L633.20,262.99 L634.07,263.85 L634.93,264.72 L635.80,265.61 L636.67,266.50 L637.53,267.40 L638.40,268.31 L639.27,269.23 L640.13,270.16 L641.00,271.10 L641.87,272.04 L642.73,272.99 L643.60,273.96 L644.47,274.93 L645.33,275.90 L646.20,276.89 L647.07,277.88 L647.93,278.89 L648.80,279.89 L649.67,280.91 L650.53,281.93 L651.40,282.96 L652.27,284.00 L653.13,285.05 L654.00,286.10 L654.87,287.16 L655.73,288.22 L656.60,289.29 L657.47,290.37 L658.33,291.45 L659.20,292.54 L660.07,293.64 L660.93,294.74 L661.80,295.85 L662.67,296.96 L663.53,298.08 L664.40,299.20 L665.27,300.33 L666.13,301.46 L667.00,302.60 L667.87,303.74 L668.73,304.89 L669.60,306.04 L670.47,307.20 L671.33,308.36 L672.20,309.52 L673.07,310.69 L673.93,311.87 L674.80,313.04 L675.67,314.22 L676.53,315.41 L677.40,316.59 L678.27,317.78 L679.13,318.98 L680.00,320.17 L680.87,321.37 L681.73,322.57 L682.60,323.78 L683.47,324.99 L684.33,326.20 L685.20,327.41 L686.07,328.62 L686.93,329.84 L687.80,331.06 L688.67,332.28 L689.53,333.50 L690.40,334.73 L691.27,335.95 L692.13,337.18 L693.00,338.41 L693.87,339.64 L694.73,340.87 L695.60,342.10 L696.47,343.34 L697.33,344.57 L698.20,345.81 L699.07,347.04 L699.93,348.28 L700.80,349.51 L701.67,350.75 L702.53,351.99 L703.40,353.23 L704.27,354.46 L705.13,355.70 L706.00,356.94 L706.87,358.18 L707.73,359.42 L708.60,360.65 L709.47,361.89 L710.33,363.13 L711.20,364.36 L712.07,365.60 L712.93,366.83 L713.80,368.07 L714.67,369.30 L715.53,370.53 L716.40,371.76 L717.27,372.99 L718.13,374.22 L719.00,375.45 L719.87,376.68 L720.73,377.90 L721.60,379.13 L722.47,380.35 L723.33,381.57 L724.20,382.79 L725.07,384.01 L725.93,385.23 L726.80,386.44 L727.67,387.66 L728.53,388.87 L729.40,390.08 L730.27,391.29 L731.13,392.50 L732.00,393.70 L732.87,394.91 L733.73,396.11 L734.60,397.31 L735.47,398.51 L736.33,399.70 L737.20,400.90 L738.07,402.09 L738.93,403.28 L739.80,404.47 L740.67,405.66 L741.53,406.84 L742.40,408.02 L743.27,409.20 L744.13,410.38 L745.00,411.56 L745.87,412.74 L746.73,413.91 L747.60,415.08 L748.47,416.25 L749.33,417.42 L750.20,418.59 L751.07,419.75 L751.93,420.91 L752.80,422.07 L753.67,423.23 L754.53,424.39 L755.40,425.54 L756.27,426.70 L757.13,427.85 L758.00,429.00 L758.87,430.15 L759.73,431.30 L760.60,432.44 L761.47,433.59 L762.33,434.73 L763.20,435.87 L764.07,437.01 L764.93,438.15 L765.80,439.29 L766.67,440.43 L767.53,441.57 L768.40,442.70 L769.27,443.84 L770.13,444.97 L771.00,446.10 L771.87,447.23 L772.73,448.36 L773.60,449.49 L774.47,450.62 L775.33,451.75 L776.20,452.88 L777.07,454.01 L777.93,455.14 L778.80,456.27 L779.67,457.39 L780.53,458.52 L781.40,459.65"/>
<path stroke="#0000ff" stroke-width="2.3" stroke-dasharray="10.5 6.3" d="M69.65,459.65 L70.88,457.30 L72.11,454.96 L73.34,452.62 L74.57,450.27 L75.80,447.93 L77.04,445.59 L78.27,443.25 L79.50,440.91 L80.73,438.57 L81.96,436.24 L83.19,433.90 L84.42,431.57 L85.65,429.25 L86.88,426.92 L88.11,424.60 L89.34,422.28 L90.57,419.97 L91.81,417.66 L93.04,415.35 L94.27,413.05 L95.50,410.75 L96.73,408.46 L97.96,406.17 L99.19,403.88 L100.42,401.60 L101.65,399.33 L102.88,397.06 L104.11,394.80 L105.34,392.55 L106.58,390.30 L107.81,388.05 L109.04,385.82 L110.27,383.58 L111.50,381.36 L112.73,379.14 L113.96,376.93 L115.19,374.73 L116.42,372.54 L117.65,370.35 L118.88,368.17 L120.11,365.99 L121.34,363.83 L122.58,361.67 L123.81,359.52 L125.04,357.38 L126.27,355.25 L127.50,353.13 L128.73,351.01 L129.96,348.91 L131.19,346.81 L132.42,344.72 L133.65,342.64 L134.88,340.57 L136.12,338.51 L137.35,336.45 L138.58,334.41 L139.81,332.38 L141.04,330.35 L142.27,328.34 L143.50,326.33 L144.73,324.34 L145.96,322.35 L147.19,320.38 L148.42,318.41 L149.65,316.45 L150.88,314.51 L152.12,312.57 L153.35,310.64 L154.58,308.73 L155.81,306.82 L157.04,304.92 L158.27,303.04 L159.50,301.16 L160.73,299.30 L161.96,297.44 L163.19,295.60 L164.42,293.77 L165.66,291.94 L166.89,290.13 L168.12,288.33 L169.35,286.54 L170.58,284.76 L171.81,282.99 L173.04,281.23 L174.27,279.48 L175.50,277.74 L176.73,276.01 L177.96,274.30 L179.19,272.59 L180.43,270.90 L181.66,269.21 L182.89,267.54 L184.12,265.88 L185.35,264.23 L186.58,262.59 L187.81,260.97 L189.04,259.35 L190.27,257.75 L191.50,256.15 L192.73,254.57 L193.96,253.00 L195.19,251.44 L196.43,249.89 L197.66,248.36 L198.89,246.83 L200.12,245.32 L201.35,243.82 L202.58,242.33 L203.81,240.86 L205.04,239.39 L206.27,237.94 L207.50,236.50 L208.73,235.07 L209.96,233.65 L211.20,232.25 L212.43,230.86 L213.66,229.48 L214.89,228.11 L216.12,226.76 L217.35,225.42 L218.58,224.09 L219.81,222.77 L221.04,221.47 L222.27,220.18 L223.50,218.90 L224.74,217.63 L225.97,216.38 L227.20,215.14 L228.43,213.92 L229.66,212.70 L230.89,211.50 L232.12,210.32 L233.35,209.14 L234.58,207.98 L235.81,206.83 L237.04,205.70 L238.27,204.57 L239.50,203.46 L240.74,202.36 L241.97,201.28 L243.20,200.21 L244.43,199.15 L245.66,198.10 L246.89,197.07 L248.12,196.05 L249.35,195.04 L250.58,194.04 L251.81,193.06 L253.04,192.09 L254.28,191.13 L255.51,190.18 L256.74,189.25 L257.97,188.33 L259.20,187.42 L260.43,186.52 L261.66,185.64 L262.89,184.76 L264.12,183.90 L265.35,183.06 L266.58,182.22 L267.81,181.40 L269.05,180.59 L270.28,179.79 L271.51,179.00 L272.74,178.22 L273.97,177.46 L275.20,176.71 L276.43,175.97 L277.66,175.24 L278.89,174.52 L280.12,173.82 L281.35,173.13 L282.58,172.44 L283.81,171.77 L285.05,171.12 L286.28,170.47 L287.51,169.83 L288.74,169.21 L289.97,168.59 L291.20,167.99 L292.43,167.40 L293.66,166.82 L294.89,166.25 L296.12,165.69 L297.35,165.15 L298.59,164.61 L299.82,164.09 L301.05,163.57 L302.28,163.07 L303.51,162.57 L304.74,162.09 L305.97,161.62 L307.20,161.16 L308.43,160.71 L309.66,160.27 L310.89,159.84 L312.12,159.42 L313.35,159.01 L314.59,158.61 L315.82,158.22 L317.05,157.85 L318.28,157.48 L319.51,157.12 L320.74,156.77 L321.97,156.43 L323.20,156.11 L324.43,155.79 L325.66,155.48 L326.89,155.18 L328.12,154.90 L329.36,154.62 L330.59,154.35 L331.82,154.09 L333.05,153.84 L334.28,153.60 L335.51,153.37 L336.74,153.15 L337.97,152.94 L339.20,152.74 L340.43,152.55 L341.66,152.37 L342.89,152.19 L344.13,152.03 L345.36,151.88 L346.59,151.73 L347.82,151.60 L349.05,151.47 L350.28,151.36 L351.51,151.25 L352.74,151.15 L353.97,151.06 L355.20,150.99 L356.43,150.92 L357.66,150.86 L358.90,150.80 L360.13,150.76 L361.36,150.73 L362.59,150.71 L363.82,150.69 L365.05,150.69"/>
<path stroke="#0000ff" stroke-width="2.3" stroke-dasharray="10.5 6.3" d="M365.05,150.69 L365.91,150.69 L366.77,150.70 L367.63,150.71 L368.49,150.73 L369.34,150.75 L370.20,150.77 L371.06,150.80 L371.92,150.83 L372.78,150.87 L373.64,150.92 L374.50,150.96 L375.36,151.02 L376.22,151.07 L377.07,151.13 L377.93,151.20 L378.79,151.27 L379.65,151.34 L380.51,151.42 L381.37,151.51 L382.23,151.59 L383.09,151.69 L383.95,151.78 L384.81,151.89 L385.66,151.99 L386.52,152.10 L387.38,152.22 L388.24,152.34 L389.10,152.46 L389.96,152.59 L390.82,152.72 L391.68,152.86 L392.54,153.00 L393.39,153.15 L394.25,153.30 L395.11,153.46 L395.97,153.62 L396.83,153.78 L397.69,153.95 L398.55,154.12 L399.41,154.30 L400.27,154.49 L401.12,154.67 L401.98,154.86 L402.84,155.06 L403.70,155.26 L404.56,155.46 L405.42,155.67 L406.28,155.89 L407.14,156.10 L408.00,156.33 L408.86,156.55 L409.71,156.78 L410.57,157.02 L411.43,157.26 L412.29,157.50 L413.15,157.75 L414.01,158.00 L414.87,158.26 L415.73,158.52 L416.59,158.78 L417.44,159.05 L418.30,159.33 L419.16,159.61 L420.02,159.89 L420.88,160.17 L421.74,160.47 L422.60,160.76 L423.46,161.06 L424.32,161.36 L425.17,161.67 L426.03,161.98 L426.89,162.30 L427.75,162.61 L428.61,162.94 L429.47,163.27 L430.33,163.60 L431.19,163.93 L432.05,164.27 L432.90,164.61 L433.76,164.96 L434.62,165.31 L435.48,165.67 L436.34,166.03 L437.20,166.39 L438.06,166.75 L438.92,167.12 L439.78,167.50 L440.64,167.87 L441.49,168.25 L442.35,168.64 L443.21,169.03 L444.07,169.42 L444.93,169.81 L445.79,170.21 L446.65,170.61 L447.51,171.02 L448.37,171.42 L449.22,171.84 L450.08,172.25 L450.94,172.67 L451.80,173.09 L452.66,173.51 L453.52,173.94 L454.38,174.37 L455.24,174.80 L456.10,175.24 L456.95,175.68 L457.81,176.12 L458.67,176.56 L459.53,177.01 L460.39,177.46 L461.25,177.91 L462.11,178.37 L462.97,178.82 L463.83,179.28 L464.69,179.74 L465.54,180.21 L466.40,180.67 L467.26,181.14 L468.12,181.61 L468.98,182.09 L469.84,182.56 L470.70,183.04 L471.56,183.51 L472.42,183.99 L473.27,184.47 L474.13,184.96 L474.99,185.44 L475.85,185.93 L476.71,186.41 L477.57,186.90 L478.43,187.39 L479.29,187.88 L480.15,188.37 L481.00,188.87 L481.86,189.36 L482.72,189.85 L483.58,190.35 L484.44,190.84 L485.30,191.34 L486.16,191.83 L487.02,192.33 L487.88,192.83 L488.73,193.32 L489.59,193.82 L490.45,194.32 L491.31,194.81 L492.17,195.31 L493.03,195.81 L493.89,196.30 L494.75,196.80 L495.61,197.29 L496.47,197.78 L497.32,198.28 L498.18,198.77 L499.04,199.26 L499.90,199.75 L500.76,200.23 L501.62,200.72 L502.48,201.21 L503.34,201.69 L504.20,202.17 L505.05,202.65 L505.91,203.13 L506.77,203.60 L507.63,204.08 L508.49,204.55 L509.35,205.02 L510.21,205.48 L511.07,205.95 L511.93,206.41 L512.78,206.87 L513.64,207.32 L514.50,207.77 L515.36,208.22 L516.22,208.67 L517.08,209.11 L517.94,209.55 L518.80,209.98 L519.66,210.41 L520.52,210.84 L521.37,211.26 L522.23,211.68 L523.09,212.10 L523.95,212.51 L524.81,212.91 L525.67,213.31 L526.53,213.71 L527.39,214.10 L528.25,214.49 L529.10,214.87 L529.96,215.24 L530.82,215.62 L531.68,215.98 L532.54,216.34 L533.40,216.70 L534.26,217.04 L535.12,217.39 L535.98,217.73 L536.83,218.06 L537.69,218.38 L538.55,218.70 L539.41,219.01 L540.27,219.32 L541.13,219.62 L541.99,219.91 L542.85,220.20 L543.71,220.48 L544.56,220.75 L545.42,221.01 L546.28,221.27 L547.14,221.52 L548.00,221.77 L548.86,222.01 L549.72,222.23 L550.58,222.46 L551.44,222.67 L552.30,222.88 L553.15,223.08 L554.01,223.27 L554.87,223.45 L555.73,223.63 L556.59,223.80 L557.45,223.96 L558.31,224.11 L559.17,224.25 L560.03,224.39 L560.88,224.51 L561.74,224.63 L562.60,224.74 L563.46,224.85 L564.32,224.94 L565.18,225.03 L566.04,225.10 L566.90,225.17 L567.76,225.23 L568.61,225.28 L569.47,225.33 L570.33,225.36 L571.19,225.39"/>
<path stroke="#0000ff" stroke-width="2.3" stroke-dasharray="10.5 6.3" d="M573.40,225.42 L574.27,225.42 L575.13,225.43 L576.00,225.46 L576.87,225.49 L577.73,225.53 L578.60,225.57 L579.47,225.63 L580.33,225.70 L581.20,225.77 L582.07,225.85 L582.93,225.94 L583.80,226.05 L584.67,226.15 L585.53,226.27 L586.40,226.40 L587.27,226.54 L588.13,226.68 L589.00,226.83 L589.87,226.99 L590.73,227.16 L591.60,227.34 L592.47,227.53 L593.33,227.73 L594.20,227.94 L595.07,228.15 L595.93,228.37 L596.80,228.60 L597.67,228.85 L598.53,229.09 L599.40,229.35 L600.27,229.62 L601.13,229.90 L602.00,230.18 L602.87,230.47 L603.73,230.78 L604.60,231.09 L605.47,231.41 L606.33,231.74 L607.20,232.07 L608.07,232.42 L608.93,232.77 L609.80,233.14 L610.67,233.51 L611.53,233.89 L612.40,234.28 L613.27,234.68 L614.13,235.09 L615.00,235.51 L615.87,235.93 L616.73,236.37 L617.60,236.81 L618.47,237.26 L619.33,237.72 L620.20,238.19 L621.07,238.67 L621.93,239.16 L622.80,239.65 L623.67,240.16 L624.53,240.67 L625.40,241.19 L626.27,241.72 L627.13,242.26 L628.00,242.81 L628.87,243.37 L629.73,243.94 L630.60,244.51 L631.47,245.09 L632.33,245.69 L633.20,246.29 L634.07,246.90 L634.93,247.52 L635.80,248.14 L636.67,248.78 L637.53,249.42 L638.40,250.08 L639.27,250.74 L640.13,251.41 L641.00,252.09 L641.87,252.78 L642.73,253.48 L643.60,254.18 L644.47,254.90 L645.33,255.62 L646.20,256.35 L647.07,257.09 L647.93,257.84 L648.80,258.60 L649.67,259.36 L650.53,260.14 L651.40,260.92 L652.27,261.71 L653.13,262.51 L654.00,263.32 L654.87,264.14 L655.73,264.96 L656.60,265.80 L657.47,266.64 L658.33,267.49 L659.20,268.35 L660.07,269.22 L660.93,270.10 L661.80,270.98 L662.67,271.87 L663.53,272.78 L664.40,273.69 L665.27,274.60 L666.13,275.53 L667.00,276.47 L667.87,277.41 L668.73,278.36 L669.60,279.32 L670.47,280.29 L671.33,281.27 L672.20,282.25 L673.07,283.24 L673.93,284.24 L674.80,285.25 L675.67,286.27 L676.53,287.29 L677.40,288.33 L678.27,289.37 L679.13,290.42 L680.00,291.48 L680.87,292.54 L681.73,293.62 L682.60,294.70 L683.47,295.79 L684.33,296.88 L685.20,297.99 L686.07,299.10 L686.93,300.22 L687.80,301.35 L688.67,302.49 L689.53,303.63 L690.40,304.78 L691.27,305.94 L692.13,307.11 L693.00,308.29 L693.87,309.47 L694.73,310.66 L695.60,311.86 L696.47,313.06 L697.33,314.28 L698.20,315.50 L699.07,316.73 L699.93,317.96 L700.80,319.20 L701.67,320.45 L702.53,321.71 L703.40,322.98 L704.27,324.25 L705.13,325.53 L706.00,326.81 L706.87,328.11 L707.73,329.41 L708.60,330.72 L709.47,332.03 L710.33,333.35 L711.20,334.68 L712.07,336.02 L712.93,337.36 L713.80,338.71 L714.67,340.07 L715.53,341.43 L716.40,342.80 L717.27,344.18 L718.13,345.56 L719.00,346.95 L719.87,348.35 L720.73,349.75 L721.60,351.16 L722.47,352.57 L723.33,354.00 L724.20,355.42 L725.07,356.86 L725.93,358.30 L726.80,359.74 L727.67,361.20 L728.53,362.65 L729.40,364.12 L730.27,365.59 L731.13,367.06 L732.00,368.55 L732.87,370.03 L733.73,371.53 L734.60,373.02 L735.47,374.53 L736.33,376.04 L737.20,377.55 L738.07,379.07 L738.93,380.59 L739.80,382.12 L740.67,383.66 L741.53,385.20 L742.40,386.74 L743.27,388.29 L744.13,389.84 L745.00,391.40 L745.87,392.96 L746.73,394.53 L747.60,396.10 L748.47,397.68 L749.33,399.26 L750.20,400.84 L751.07,402.43 L751.93,404.02 L752.80,405.61 L753.67,407.21 L754.53,408.81 L755.40,410.42 L756.27,412.03 L757.13,413.64 L758.00,415.25 L758.87,416.87 L759.73,418.49 L760.60,420.12 L761.47,421.74 L762.33,423.37 L763.20,425.00 L764.07,426.64 L764.93,428.27 L765.80,429.91 L766.67,431.55 L767.53,433.20 L768.40,434.84 L769.27,436.49 L770.13,438.13 L771.00,439.78 L771.87,441.43 L772.73,443.09 L773.60,444.74 L774.47,446.39 L775.33,448.05 L776.20,449.70 L777.07,451.36 L777.93,453.02 L778.80,454.68 L779.67,456.33 L780.53,457.99 L781.40,459.65"/>
</g>
<g stroke="#000" fill="none">
<rect x="69.65" y="9.20" width="711.75" height="450.45" stroke-width="2.2"/>
<path stroke-width="2.3" d="M365.05,9.20 V459.65 M573.40,9.20 V459.65"/>
<path stroke-width="1.1" d="M69.65,459.65 h8.30 M781.40,459.65 h-8.30 M69.65,403.34 h5.70 M781.40,403.34 h-5.70 M359.35,403.34 h11.40 M567.70,403.34 h11.40 M69.65,347.04 h8.30 M781.40,347.04 h-8.30 M356.75,347.04 h16.60 M565.10,347.04 h16.60 M69.65,290.73 h5.70 M781.40,290.73 h-5.70 M359.35,290.73 h11.40 M567.70,290.73 h11.40 M69.65,234.42 h8.30 M781.40,234.42 h-8.30 M356.75,234.42 h16.60 M565.10,234.42 h16.60 M69.65,178.12 h5.70 M781.40,178.12 h-5.70 M359.35,178.12 h11.40 M567.70,178.12 h11.40 M69.65,121.81 h8.30 M781.40,121.81 h-8.30 M356.75,121.81 h16.60 M565.10,121.81 h16.60 M69.65,65.51 h5.70 M781.40,65.51 h-5.70 M359.35,65.51 h11.40 M567.70,65.51 h11.40 M69.65,9.20 h8.30 M781.40,9.20 h-8.30 M143.36,459.65 v-5.70 M143.36,9.20 v5.70 M217.08,459.65 v-8.30 M217.08,9.20 v8.30 M290.79,459.65 v-5.70 M290.79,9.20 v5.70 M416.99,459.65 v-5.70 M416.99,9.20 v5.70 M469.12,459.65 v-8.30 M469.12,9.20 v8.30 M521.26,459.65 v-5.70 M521.26,9.20 v5.70 M625.40,459.65 v-5.70 M625.40,9.20 v5.70 M677.40,459.65 v-8.30 M677.40,9.20 v8.30 M729.40,459.65 v-5.70 M729.40,9.20 v5.70"/>
</g>
<g opacity="0.999">
<text transform="translate(51.72,17.72) rotate(0) scale(1.0318,1.0900)" font-family='"Liberation Sans",sans-serif' font-size="22px" font-weight="normal" font-style="normal" fill="#000">4</text>
<text transform="translate(52.02,129.80) rotate(0) scale(1.0537,1.0581)" font-family='"Liberation Sans",sans-serif' font-size="22px" font-weight="normal" font-style="normal" fill="#000">3</text>
<text transform="translate(51.88,243.00) rotate(0) scale(1.0732,1.0820)" font-family='"Liberation Sans",sans-serif' font-size="22px" font-weight="normal" font-style="normal" fill="#000">2</text>
<path fill="#000" d="M63.90,355.00 L61.84,355.00 L61.84,343.82 L58.10,343.82 L58.10,342.42 C60.64,342.38 61.68,341.89 62.31,339.30 L63.90,339.30 Z"/>
<text transform="translate(52.47,467.75) rotate(0) scale(1.0095,1.0645)" font-family='"Liberation Sans",sans-serif' font-size="22px" font-weight="normal" font-style="normal" fill="#000">0</text>
<text transform="translate(57.70,499.55) rotate(0) scale(1.1457,1.0382)" font-family='"Liberation Serif",serif' font-size="34px" font-weight="normal" font-style="normal" fill="#000">Γ</text>
<text transform="translate(350.10,499.50) rotate(0) scale(1.0265,1.0337)" font-family='"Liberation Serif",serif' font-size="34px" font-weight="normal" font-style="normal" fill="#000">M</text>
<text transform="translate(560.95,499.50) rotate(0) scale(1.0323,1.0337)" font-family='"Liberation Serif",serif' font-size="34px" font-weight="normal" font-style="normal" fill="#000">X</text>
<text transform="translate(766.90,499.55) rotate(0) scale(1.1486,1.0382)" font-family='"Liberation Serif",serif' font-size="34px" font-weight="normal" font-style="normal" fill="#000">Γ</text>
<text stroke="#000" stroke-width="0.7" stroke-linejoin="round" transform="translate(27.50,265.43) rotate(-90) scale(0.9686,0.9725)" font-family='"Liberation Serif",serif' font-size="40px" font-weight="normal" font-style="normal" fill="#000">ε</text>
<text transform="translate(41.98,248.98) rotate(-90) scale(0.9382,0.9778)" font-family='"Liberation Serif",serif' font-size="26px" font-weight="bold" font-style="normal" fill="#000">k</text>
<text transform="translate(28.35,233.77) rotate(-90) scale(0.6890,0.9592)" font-family='"Liberation Sans",sans-serif' font-size="37px" font-weight="normal" font-style="italic" fill="#000">/</text>
<text transform="translate(28.09,224.09) rotate(-90) scale(1.0313,1.0187)" font-family='"Liberation Sans",sans-serif' font-size="37px" font-weight="normal" font-style="italic" fill="#000">J</text>
<g fill="none" stroke="#ff0000" stroke-linecap="round" stroke-linejoin="round"><path stroke-width="1.25" d="M166.64,59.10 C166.81,56.55 168.60,55.50 170.27,56.10"/><path stroke-width="1.7" d="M170.27,56.10 C172.23,57.00 173.06,62.41 174.46,68.56 C175.19,71.91 175.90,73.90 177.20,74.05"/><path stroke-width="1.2" d="M177.20,74.05 C178.50,74.00 179.10,72.60 179.35,71.20"/><path stroke-width="2.2" stroke-linecap="butt" d="M172.90,62.90 L167.15,74.75"/></g>
<text transform="translate(207.25,76.03) rotate(0) scale(1.0275,1.1062)" font-family='"Liberation Serif",serif' font-size="27px" font-weight="normal" font-style="normal" fill="#ff0000">0.5</text>
<path fill="#ff0000" d="M186.90,64.80 h14.10 v1.70 h-14.10 z M186.90,70.30 h14.10 v1.70 h-14.10 z"/>
<g fill="none" stroke="#0000ff" stroke-linecap="round" stroke-linejoin="round"><path stroke-width="1.25" d="M403.19,246.70 C403.36,244.15 405.15,243.10 406.82,243.70"/><path stroke-width="1.7" d="M406.82,243.70 C408.78,244.60 409.61,250.01 411.01,256.16 C411.74,259.51 412.45,261.50 413.75,261.65"/><path stroke-width="1.2" d="M413.75,261.65 C415.05,261.60 415.65,260.20 415.90,258.80"/><path stroke-width="2.2" stroke-linecap="butt" d="M409.45,250.50 L403.70,262.35"/></g>
<text transform="translate(443.85,263.18) rotate(0) scale(1.0957,1.0767)" font-family='"Liberation Serif",serif' font-size="27px" font-weight="normal" font-style="normal" fill="#0000ff">0</text>
<path fill="#0000ff" d="M423.45,252.40 h14.10 v1.70 h-14.10 z M423.45,257.90 h14.10 v1.70 h-14.10 z"/>
<g fill="none" stroke="#000000" stroke-linecap="round" stroke-linejoin="round"><path stroke-width="1.25" d="M244.19,349.30 C244.36,346.75 246.15,345.70 247.82,346.30"/><path stroke-width="1.7" d="M247.82,346.30 C249.78,347.20 250.61,352.61 252.01,358.76 C252.74,362.11 253.45,364.10 254.75,364.25"/><path stroke-width="1.2" d="M254.75,364.25 C256.05,364.20 256.65,362.80 256.90,361.40"/><path stroke-width="2.2" stroke-linecap="butt" d="M250.45,353.10 L244.70,364.95"/></g>
<text transform="translate(285.08,365.65) rotate(0) scale(1.0173,1.0767)" font-family='"Liberation Serif",serif' font-size="27px" font-weight="normal" font-style="normal" fill="#000000">0.9</text>
<path fill="#000000" d="M264.45,355.00 h14.10 v1.70 h-14.10 z M264.45,360.50 h14.10 v1.70 h-14.10 z"/>
</g>
<line x1="246.60" y1="75.00" x2="293.80" y2="93.15" stroke="#ff0000" stroke-width="1.9"/>
<polygon fill="#ff0000" points="306.40,98.00 286.26,97.43 293.80,93.15 291.07,84.93"/>
<line x1="432.50" y1="234.30" x2="461.85" y2="198.45" stroke="#0000ff" stroke-width="1.9"/>
<polygon fill="#0000ff" points="470.40,188.00 463.55,206.95 461.85,198.45 453.18,198.46"/>
<line x1="235.30" y1="347.00" x2="194.11" y2="325.05" stroke="#000000" stroke-width="1.9"/>
<polygon fill="#000000" points="182.20,318.70 202.12,321.72 194.11,325.05 195.82,333.55"/>
</svg>
</body></html>
